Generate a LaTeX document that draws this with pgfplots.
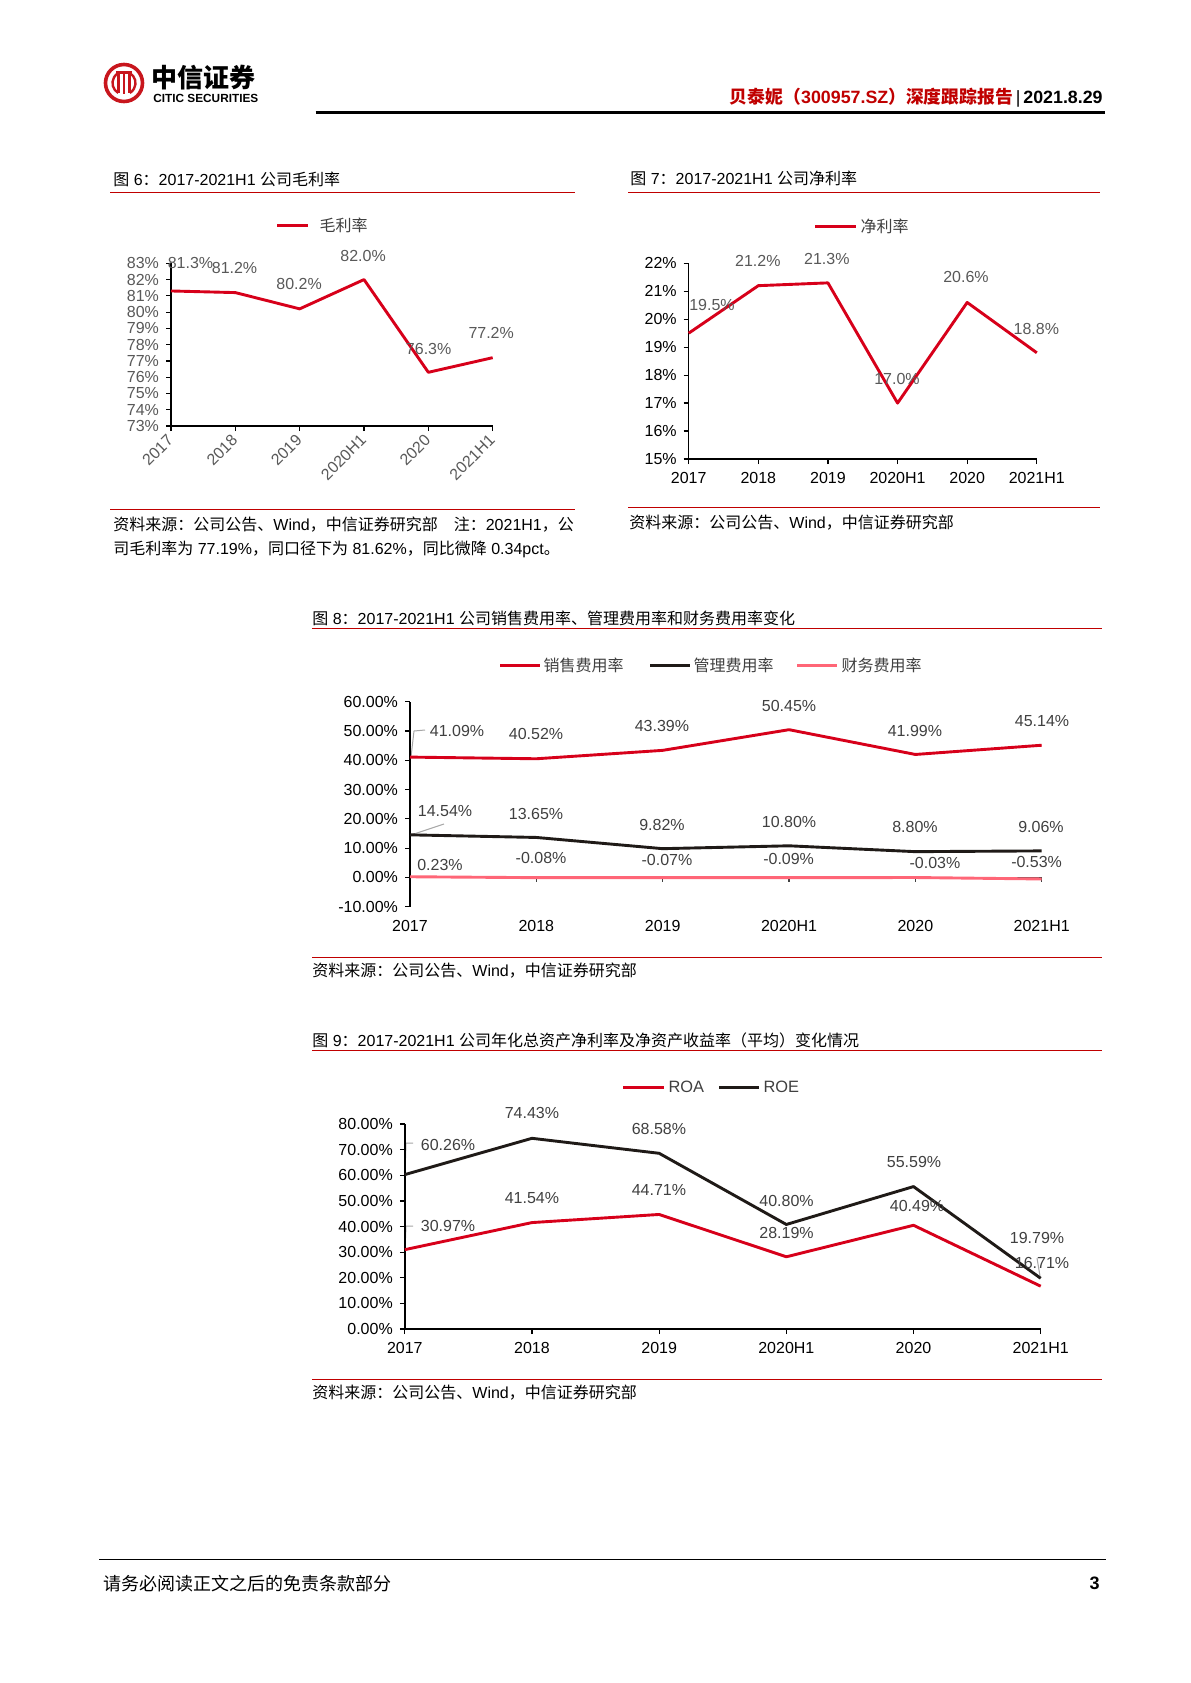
\documentclass[border=0pt]{standalone}
\usepackage{pgfplots}
\pgfplotsset{compat=1.18}
\usepackage{pgfplotstable}
\usepackage{fontspec}
\setmainfont{Liberation Sans}
\newfontfamily\cjk{Noto Sans CJK SC}
\definecolor{hdred}{HTML}{C00000}
\definecolor{lnred}{HTML}{D7001A}
\definecolor{lnblk}{HTML}{1F1A17}
\definecolor{lnpink}{HTML}{FF6677}
\definecolor{labgray}{HTML}{595959}
\definecolor{labdark}{HTML}{404040}
\definecolor{logored}{HTML}{C8161D}
\newcommand{\fs}[1]{\fontsize{#1}{#1}\selectfont}
\newcommand{\C}[1]{{\cjk #1}}

% x = category index, y = value, lab = printed label, dx/dy = label offset (pt)
\pgfplotstableread{
x y lab dx dy
0 81.3 81.3 9.75 14
1 81.2 81.2 -0.4 12.3
2 80.2 80.2 -0.3 12.4
3 82.0 82.0 -0.45 11.8
4 76.3 76.3 0.15 11.7
5 77.2 77.2 -0.75 12.3
}\tabgross
\pgfplotstableread{
x y lab dx dy
0 19.5 19.5 11.65 14.1
1 21.2 21.2 -0.25 12.3
2 21.3 21.3 -0.55 12
3 17.0 17.0 -0.3 12
4 20.6 20.6 -0.6 12.7
5 18.8 18.8 -0.25 11.9
}\tabnet
\pgfplotstableread{
x y lab dx dy
0 41.09 41.09 23.5 12.95
1 40.52 40.52 -0.15 12.3
2 43.39 43.39 -0.35 12.1
3 50.45 50.45 0 11.9
4 41.99 41.99 -0.2 11.8
5 45.14 45.14 0.15 12.15
}\tabsales
\pgfplotstableread{
x y lab dx dy
0 14.54 14.54 17.5 12
1 13.65 13.65 -0.15 11.65
2 9.82 9.82 -0.35 11.75
3 10.80 10.80 0 12
4 8.80 8.80 -0.2 12.25
5 9.06 9.06 -0.35 11.9
}\tabadmin
\pgfplotstableread{
x y lab dx dy
0 0.23 0.23 15 5.8
1 -0.08 -0.08 2.35 9.9
2 -0.07 -0.07 2.15 8.75
3 -0.09 -0.09 -0.2 9.15
4 -0.03 -0.03 9.8 7.05
5 -0.53 -0.53 -2.55 8.6
}\tabfin
\pgfplotstableread{
x y lab dx dy
0 30.97 30.97 21.6 11.95
1 41.54 41.54 0 12.15
2 44.71 44.71 -0.1 12.2
3 28.19 28.19 0.1 12.05
4 40.49 40.49 1.75 9.75
5 16.71 16.71 0.65 11.75
}\tabroa
\pgfplotstableread{
x y lab dx dy
0 60.26 60.26 21.6 14.8
1 74.43 74.43 0 12.65
2 68.58 68.58 -0.1 12.15
3 40.80 40.80 0.1 11.9
4 55.59 55.59 0.25 12.15
5 19.79 19.79 -1.85 20
}\tabroe

\pgfplotsset{
  pg/.style={scale only axis, clip=false, enlargelimits=false,
    xmin=0, xmax=5, xtick={0,...,5},
    xticklabels={2017,2018,2019,2020H1,2020,2021H1},
    axis x line=bottom, axis y line=left,
    axis line style={-, line width=0.7pt, black},
    tick align=outside, major tick length=2.5pt,
    tick style={line width=0.6pt, black},
    ticklabel style={font=\fs{8}},
    xticklabel style={yshift=-0.8pt},
    /pgf/number format/assume math mode=true},
  lab/.style={nodes near coords={\pgfplotspointmeta\%}, point meta=explicit symbolic,
    visualization depends on={\thisrow{dx}\as\dx},
    visualization depends on={\thisrow{dy}\as\dy},
    every node near coord/.append style={anchor=center, inner sep=0pt,
      xshift={\dx*1pt}, yshift={\dy*1pt}, font=\fs{8}, text=#1}},
  ser/.style={draw=#1, line width=1.45pt, no markers, line join=round},
}

\begin{document}
\begin{tikzpicture}
\begin{scope}[x=0.5pt,y=-0.5pt]
\fill[white] (0,0) rectangle (1190,1683);
\path[use as bounding box] (0,0) rectangle (1190,1683);
% header
\draw[logored, line width=1.8pt] (124,83) circle[radius=18.5];
\draw[logored, line width=1.2pt] (124,83) ++(120:11.5) arc[start angle=120, end angle=240, radius=11.5];
\draw[logored, line width=1.2pt] (124,83) ++(-60:11.5) arc[start angle=-60, end angle=60, radius=11.5];
\draw[logored, line width=1.1pt] (118.5,74) -- (118.5,93) (124,72) -- (124,94) (129.5,74) -- (129.5,93) (116,72.5) -- (132,72.5);
\node[anchor=west, inner sep=0pt, font=\cjk\bfseries\fs{13}] at (151,78) {中信证券};
\node[anchor=west, inner sep=0pt, font=\bfseries\fs{5.9}] at (153,98.5) {CITIC SECURITIES};
\node[anchor=east, inner sep=0pt, font=\fs{8.9}] at (1103,98)
  {{\color{hdred}\cjk\bfseries 贝泰妮（}{\color{hdred}\bfseries 300957.SZ}{\color{hdred}\cjk\bfseries ）深度跟踪报告}\,|\,{\bfseries 2021.8.29}};
\draw[line width=1.4pt] (315.6,112.3) -- (1105,112.3);

% titles, rules, sources
\begin{scope}[every node/.style={anchor=west, inner sep=0pt, font=\fs{8}}]
\node at (113,179) {\C{图} 6\C{：}2017-2021H1 \C{公司毛利率}};
\node at (630,178) {\C{图} 7\C{：}2017-2021H1 \C{公司净利率}};
\node at (312,618) {\C{图} 8\C{：}2017-2021H1 \C{公司销售费用率、管理费用率和财务费用率变化}};
\node at (312,1040) {\C{图} 9\C{：}2017-2021H1 \C{公司年化总资产净利率及净资产收益率（平均）变化情况}};
\node at (113,525) {\C{资料来源：公司公告、}Wind\C{，中信证券研究部　注：}2021H1\C{，公}};
\node at (113,549) {\C{司毛利率为} 77.19\%\C{，同口径下为} 81.62\%\C{，同比微降} 0.34pct\C{。}};
\node at (629,523) {\C{资料来源：公司公告、}Wind\C{，中信证券研究部}};
\node at (312,971) {\C{资料来源：公司公告、}Wind\C{，中信证券研究部}};
\node at (312,1393) {\C{资料来源：公司公告、}Wind\C{，中信证券研究部}};
\end{scope}
\begin{scope}[hdred, line width=0.5pt]
\draw (110,192) -- (575,192) (110,509) -- (575,509);
\draw (628,192) -- (1100,192) (628,507) -- (1100,507);
\draw (312,628) -- (1102,628) (312,957) -- (1102,957);
\draw (312,1050) -- (1102,1050) (312,1379) -- (1102,1379);
\end{scope}

% legends
\begin{scope}[every node/.style={anchor=west, inner sep=0pt, font=\cjk\fs{8}, text=labdark}, line width=1.5pt]
\draw[lnred] (277,225) -- (308,225); \node at (318,225) {毛利率};
\draw[lnred] (815,226) -- (856,226); \node at (859,226) {净利率};
\draw[lnred] (500,665) -- (540,665); \node at (542,665) {销售费用率};
\draw[lnblk] (650,665) -- (690,665); \node at (692,665) {管理费用率};
\draw[lnpink] (797,665) -- (837,665); \node at (840,665) {财务费用率};
\draw[lnred] (623,1087) -- (664,1087); \node[font=\fs{8.2}] at (667,1087) {ROA};
\draw[lnblk] (719,1087) -- (759,1087); \node[font=\fs{8.2}] at (762,1087) {ROE};
\end{scope}

% leader lines
\begin{scope}[draw=black!35, line width=0.5pt]
\draw (411,757) -- (414,731) -- (425,730);
\draw (411,835) -- (444,824);
\draw (405,1173) -- (406,1143) -- (413,1143);
\draw (405,1250) -- (406,1226) -- (413,1226);
\draw (1040,1276) -- (1037,1258);
\end{scope}

% footer
\draw[line width=0.7pt] (99,1559.3) -- (1105.5,1559.3);
\node[anchor=west, inner sep=0pt, font=\cjk\fs{9}] at (103.5,1583.3) {请务必阅读正文之后的免责条款部分};
\node[anchor=east, inner sep=0pt, font=\bfseries\fs{9}] at (1100,1583.3) {3};
\end{scope}

% Fig 6
\begin{axis}[pg, at={(85.5pt,-213pt)}, anchor=south west,
  width=160.85pt, height=81.35pt,
  ymin=73, ymax=83, ytick={73,...,83},
  yticklabel={\pgfmathprintnumber{\tick}\%},
  ticklabel style={text=labgray},
  xticklabel style={rotate=45, anchor=east, xshift=1.5pt, yshift=-1.5pt}]
\addplot[ser=lnred, lab=labgray] table[x=x, y=y, meta=lab] {\tabgross};
\end{axis}

% Fig 7
\begin{axis}[pg, at={(344.35pt,-229.5pt)}, anchor=south west,
  width=174.05pt, height=97.85pt,
  ymin=15, ymax=22, ytick={15,...,22},
  yticklabel={\pgfmathprintnumber{\tick}\%}]
\addplot[ser=lnred, lab=labgray] table[x=x, y=y, meta=lab] {\tabnet};
\end{axis}

% Fig 8
\begin{axis}[pg, at={(205pt,-453.35pt)}, anchor=south west,
  width=315.85pt, height=102.5pt,
  ymin=-10, ymax=60, ytick={-10,0,...,60},
  yticklabel={\pgfmathprintnumber[fixed,fixed zerofill,precision=2]{\tick}\%},
  x axis line style={draw=none}, xtick style={draw=none}]
\draw[line width=0.7pt, labdark] (axis cs:0,0) -- (axis cs:5,0);
\pgfplotsinvokeforeach{1,...,5}{\draw[line width=0.6pt, labdark] (axis cs:#1,0) -- (axis cs:#1,-1.7);}
\addplot[ser=lnred, lab=labdark] table[x=x, y=y, meta=lab] {\tabsales};
\addplot[ser=lnblk, lab=labdark] table[x=x, y=y, meta=lab] {\tabadmin};
\addplot[ser=lnpink, lab=labdark] table[x=x, y=y, meta=lab] {\tabfin};
\end{axis}

% Fig 9
\begin{axis}[pg, at={(202.4pt,-664.5pt)}, anchor=south west,
  width=317.95pt, height=102.5pt,
  ymin=0, ymax=80, ytick={0,10,...,80},
  yticklabel={\pgfmathprintnumber[fixed,fixed zerofill,precision=2]{\tick}\%}]
\addplot[ser=lnblk, lab=labdark] table[x=x, y=y, meta=lab] {\tabroe};
\addplot[ser=lnred, lab=labdark] table[x=x, y=y, meta=lab] {\tabroa};
\end{axis}
\end{tikzpicture}
\end{document}
